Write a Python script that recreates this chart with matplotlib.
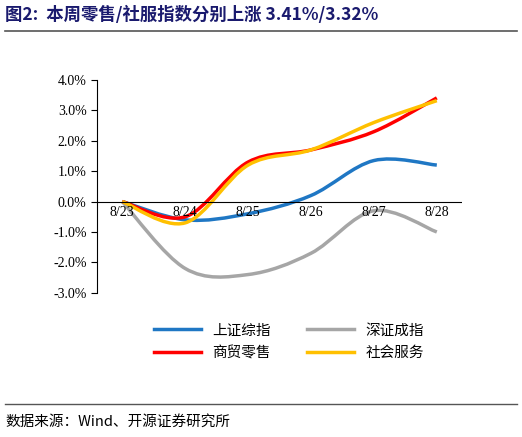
import matplotlib.pyplot as plt
from matplotlib.path import Path
from matplotlib.patches import PathPatch
from matplotlib.lines import Line2D
import numpy as np

plt.rcParams['font.family'] = ['Noto Sans CJK SC', 'DejaVu Sans']

dates = ['8/23', '8/24', '8/25', '8/26', '8/27', '8/28']
sh_index = [0, -0.6, -0.4, 0.2, 1.35, 1.2]
sz_index = [0, -2.2, -2.4, -1.7, -0.3, -1.0]
retail = [0, -0.5, 1.3, 1.7, 2.3, 3.41]
service = [0, -0.7, 1.2, 1.7, 2.6, 3.32]
names = ['上证综指', '深证成指', '商贸零售', '社会服务']
colors = ['#1f77c4', '#a6a6a6', '#ff0000', '#ffc000']


def smooth_path(xs, ys):
    # Catmull-Rom -> cubic bezier, drawn by matplotlib's Path
    pts = list(zip(xs, ys))
    verts = [pts[0]]
    codes = [Path.MOVETO]
    n = len(pts)
    for i in range(n - 1):
        p0 = pts[i - 1] if i > 0 else pts[i]
        p1 = pts[i]
        p2 = pts[i + 1]
        p3 = pts[i + 2] if i + 2 < n else pts[i + 1]
        c1 = (p1[0] + (p2[0] - p0[0]) / 6, p1[1] + (p2[1] - p0[1]) / 6)
        c2 = (p2[0] - (p3[0] - p1[0]) / 6, p2[1] - (p3[1] - p1[1]) / 6)
        verts += [c1, c2, p2]
        codes += [Path.CURVE4] * 3
    return Path(verts, codes)


fig = plt.figure(figsize=(5.22, 4.37), dpi=100)
ax = fig.add_axes([0.186, 0.330, 0.699, 0.487])
x = np.arange(len(dates))
for ys, c in zip([sh_index, sz_index, retail, service], colors):
    ax.add_patch(PathPatch(smooth_path(x, ys), fill=False, edgecolor=c, lw=2.5))

ax.set_xlim(-0.4, 5.4)
ax.set_ylim(-3, 4)
ax.set_yticks(np.arange(-3, 4.1, 1))
ax.set_yticklabels([f'{v:.1f}%' for v in np.arange(-3, 4.1, 1)],
                   family='Liberation Serif', fontsize=10)
for s in ['top', 'right', 'bottom']:
    ax.spines[s].set_visible(False)
ax.axhline(0, color='black', lw=0.8)
ax.set_xticks([])
for xi, d in zip(x, dates):
    ax.text(xi, -0.15, d, ha='center', va='top', family='Liberation Serif', fontsize=10)
ax.tick_params(axis='y', length=4, direction='out')

# column-major order so rows read: 上证/深证, 商贸/社会
order = [0, 2, 1, 3]
handles = [Line2D([], [], color=colors[i], lw=2.5) for i in order]
fig.legend(handles, [names[i] for i in order], ncol=2, loc='upper left',
           bbox_to_anchor=(0.27, 0.29), frameon=False, fontsize=10.5,
           handlelength=3.2, columnspacing=2.5, labelspacing=0.6)

fig.text(0.01, 0.965, '图2:  本周零售/社服指数分别上涨 3.41%/3.32%', fontsize=12.5,
         weight='bold', color='#1a1a6e', va='center')
fig.add_artist(Line2D([0.01, 0.99], [0.928, 0.928], color='#555555', lw=1.2))
fig.add_artist(Line2D([0.01, 0.99], [0.075, 0.075], color='#555555', lw=1.0))
fig.text(0.01, 0.035, '数据来源：Wind、开源证券研究所', fontsize=10.5, va='center')

fig.savefig('out.png', dpi=100)
